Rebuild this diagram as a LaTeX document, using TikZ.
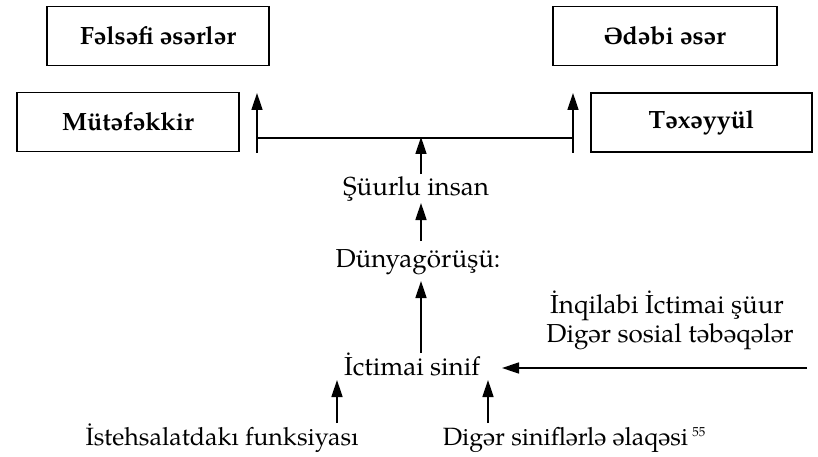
\documentclass[tikz,border=0pt]{standalone}
\usepackage{fontspec}
\setmainfont{TeX Gyre Pagella}
\newfontfamily\schwafont{Liberation Serif}
\usetikzlibrary{arrows.meta}
\begin{document}
\begin{tikzpicture}[x=1pt,y=-1pt,
  boxst/.style={draw,line width=1.6pt,minimum width=222pt,minimum height=59pt,inner sep=0pt,font=\fontsize{25}{28}\selectfont\bfseries},
  txt/.style={inner sep=0pt,anchor=base,font=\fontsize{26}{30}\selectfont},
  btxt/.style={inner sep=0pt,anchor=base,font=\fontsize{25}{30}\selectfont},
  arr/.style={line width=1.6pt,-{Triangle[width=11pt,length=17pt]}},
  ln/.style={line width=1.6pt}]
\useasboundingbox (0,0) rectangle (818,457);
% boxes
\node[boxst] (fel) at (158,36) {Fəlsəfi əsərlər};
\node[boxst] (mut) at (128,122) {Mütəfəkkir};
\node[boxst,minimum width=224pt] (ede) at (665,36) {{\schwafont Ə}dəbi əsər};
\node[boxst,minimum width=221pt] (tex) at (701.5,122.5) {Təxəyyül};
% text nodes
\node[txt] (sur) at (416,195) {Şüurlu insan};
\node[txt] (dun) at (418,267) {Dünyagörüşü:};
\node[txt] (ict) at (412,375) {İctimai sinif};
\node[txt] (inq) at (667,313) {İnqilabi İctimai şüur};
\node[txt] (dig) at (670,342) {Digər sosial təbəqələr};
\node[btxt] (ist) at (222,445) {İstehsalatdakı funksiyası};
\node[btxt] (dsl) at (574,445) {Digər siniflərlə əlaqəsi\,\raisebox{0.7ex}{\fontsize{13}{14}\selectfont 55}};
% coordinates
\coordinate (lb) at (257,153);
\coordinate (lt) at (257,93);
\coordinate (lm) at (257,138);
\coordinate (rb) at (573,153);
\coordinate (rt) at (573,93);
\coordinate (rm) at (573,138);
\coordinate (mm) at (421,137);
\coordinate (s1) at (421,174);
\coordinate (d1) at (421,241);
\coordinate (d2) at (421,203);
\coordinate (i1) at (421,353);
\coordinate (i2) at (421,281);
\coordinate (e1) at (807,368);
\coordinate (e2) at (502,368);
\coordinate (a1) at (337,423);
\coordinate (a2) at (337,380);
\coordinate (b1) at (488,423);
\coordinate (b2) at (488,380);
% connectors
\draw[arr] (lb) -- (lt);
\draw[arr] (rb) -- (rt);
\draw[ln] (lm) -- (rm);
\draw[arr] (s1) -- (mm);
\draw[arr] (d1) -- (d2);
\draw[arr] (i1) -- (i2);
\draw[arr] (e1) -- (e2);
\draw[arr] (a1) -- (a2);
\draw[arr] (b1) -- (b2);
\end{tikzpicture}
\end{document}
